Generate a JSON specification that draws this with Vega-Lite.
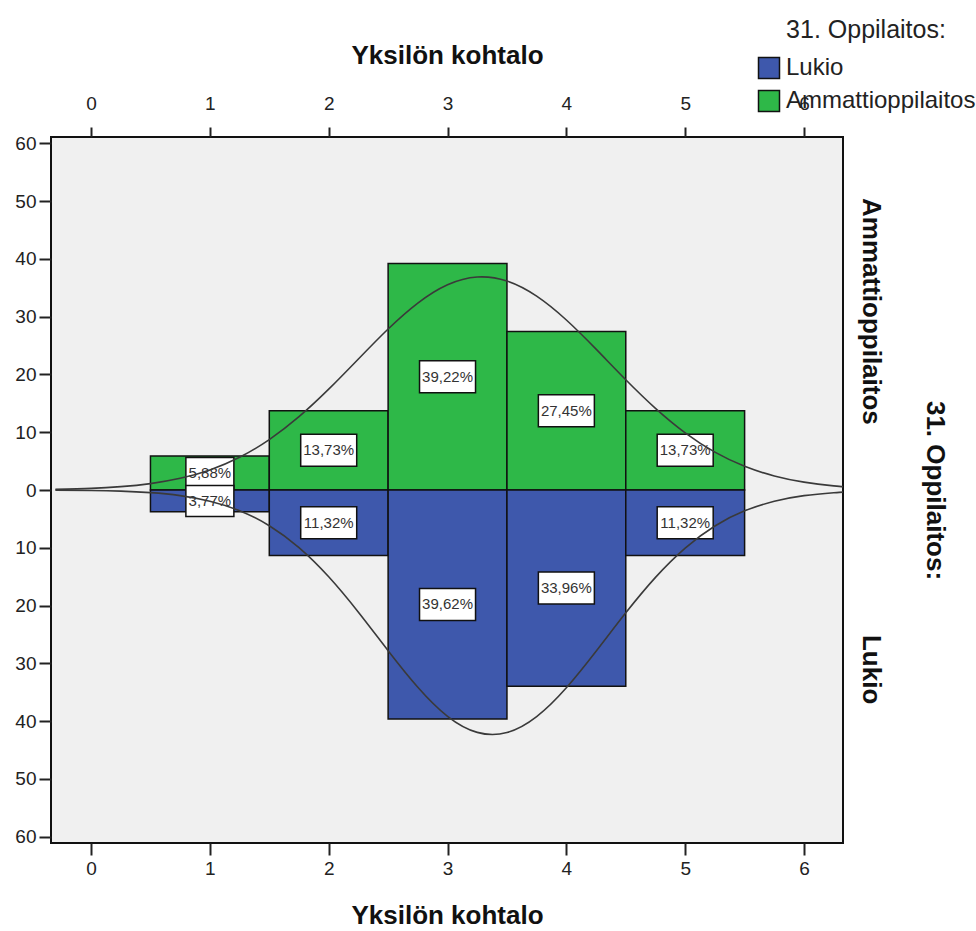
{
  "$schema": "https://vega.github.io/schema/vega-lite/v6.json",
  "width": 792,
  "height": 706,
  "autosize": {"type": "none"},
  "padding": {"left": 51, "top": 137, "right": 133, "bottom": 88},
  "background": "white",
  "config": {
    "font": "Liberation Sans",
    "view": {"stroke": "#111", "strokeWidth": 2, "fill": "#f0f0f0"},
    "axis": {"labelFont": "Liberation Sans", "titleFont": "Liberation Sans", "labelColor": "#222", "titleColor": "#111", "tickColor": "#222", "grid": false, "domain": false}
  },
  "datasets": {
    "bars": [
      {"group": "Ammattioppilaitos", "k": 1, "pct": 5.88, "label": "5,88%"},
      {"group": "Ammattioppilaitos", "k": 2, "pct": 13.73, "label": "13,73%"},
      {"group": "Ammattioppilaitos", "k": 3, "pct": 39.22, "label": "39,22%"},
      {"group": "Ammattioppilaitos", "k": 4, "pct": 27.45, "label": "27,45%"},
      {"group": "Ammattioppilaitos", "k": 5, "pct": 13.73, "label": "13,73%"},
      {"group": "Lukio", "k": 1, "pct": 3.77, "label": "3,77%"},
      {"group": "Lukio", "k": 2, "pct": 11.32, "label": "11,32%"},
      {"group": "Lukio", "k": 3, "pct": 39.62, "label": "39,62%"},
      {"group": "Lukio", "k": 4, "pct": 33.96, "label": "33,96%"},
      {"group": "Lukio", "k": 5, "pct": 11.32, "label": "11,32%"}
    ],
    "curves": [
      {"group": "Ammattioppilaitos", "x": -0.3, "d": 0.11},
      {"group": "Ammattioppilaitos", "x": 0, "d": 0.28},
      {"group": "Ammattioppilaitos", "x": 0.25, "d": 0.58},
      {"group": "Ammattioppilaitos", "x": 0.5, "d": 1.11},
      {"group": "Ammattioppilaitos", "x": 0.75, "d": 2.02},
      {"group": "Ammattioppilaitos", "x": 1, "d": 3.48},
      {"group": "Ammattioppilaitos", "x": 1.25, "d": 5.67},
      {"group": "Ammattioppilaitos", "x": 1.5, "d": 8.73},
      {"group": "Ammattioppilaitos", "x": 1.75, "d": 12.69},
      {"group": "Ammattioppilaitos", "x": 2, "d": 17.45},
      {"group": "Ammattioppilaitos", "x": 2.25, "d": 22.68},
      {"group": "Ammattioppilaitos", "x": 2.5, "d": 27.87},
      {"group": "Ammattioppilaitos", "x": 2.75, "d": 32.36},
      {"group": "Ammattioppilaitos", "x": 3, "d": 35.53},
      {"group": "Ammattioppilaitos", "x": 3.25, "d": 36.87},
      {"group": "Ammattioppilaitos", "x": 3.5, "d": 36.17},
      {"group": "Ammattioppilaitos", "x": 3.75, "d": 33.55},
      {"group": "Ammattioppilaitos", "x": 4, "d": 29.42},
      {"group": "Ammattioppilaitos", "x": 4.25, "d": 24.38},
      {"group": "Ammattioppilaitos", "x": 4.5, "d": 19.09},
      {"group": "Ammattioppilaitos", "x": 4.75, "d": 14.14},
      {"group": "Ammattioppilaitos", "x": 5, "d": 9.9},
      {"group": "Ammattioppilaitos", "x": 5.25, "d": 6.55},
      {"group": "Ammattioppilaitos", "x": 5.5, "d": 4.1},
      {"group": "Ammattioppilaitos", "x": 5.75, "d": 2.42},
      {"group": "Ammattioppilaitos", "x": 6, "d": 1.36},
      {"group": "Ammattioppilaitos", "x": 6.25, "d": 0.71},
      {"group": "Ammattioppilaitos", "x": 6.33, "d": 0.58},
      {"group": "Lukio", "x": -0.3, "d": 0.02},
      {"group": "Lukio", "x": 0, "d": 0.08},
      {"group": "Lukio", "x": 0.25, "d": 0.2},
      {"group": "Lukio", "x": 0.5, "d": 0.46},
      {"group": "Lukio", "x": 0.75, "d": 0.97},
      {"group": "Lukio", "x": 1, "d": 1.94},
      {"group": "Lukio", "x": 1.25, "d": 3.58},
      {"group": "Lukio", "x": 1.5, "d": 6.18},
      {"group": "Lukio", "x": 1.75, "d": 9.98},
      {"group": "Lukio", "x": 2, "d": 15.03},
      {"group": "Lukio", "x": 2.25, "d": 21.16},
      {"group": "Lukio", "x": 2.5, "d": 27.81},
      {"group": "Lukio", "x": 2.75, "d": 34.14},
      {"group": "Lukio", "x": 3, "d": 39.17},
      {"group": "Lukio", "x": 3.25, "d": 41.95},
      {"group": "Lukio", "x": 3.5, "d": 41.98},
      {"group": "Lukio", "x": 3.75, "d": 39.23},
      {"group": "Lukio", "x": 4, "d": 34.24},
      {"group": "Lukio", "x": 4.25, "d": 27.92},
      {"group": "Lukio", "x": 4.5, "d": 21.26},
      {"group": "Lukio", "x": 4.75, "d": 15.12},
      {"group": "Lukio", "x": 5, "d": 10.05},
      {"group": "Lukio", "x": 5.25, "d": 6.23},
      {"group": "Lukio", "x": 5.5, "d": 3.61},
      {"group": "Lukio", "x": 5.75, "d": 1.96},
      {"group": "Lukio", "x": 6, "d": 0.98},
      {"group": "Lukio", "x": 6.25, "d": 0.47},
      {"group": "Lukio", "x": 6.33, "d": 0.36}
    ]
  },
  "layer": [
    {
      "data": {"name": "bars"},
      "transform": [
        {"calculate": "datum.group == 'Lukio' ? -datum.pct : datum.pct", "as": "v"},
        {"calculate": "datum.k - 0.5", "as": "lo"},
        {"calculate": "datum.k + 0.5", "as": "hi"}
      ],
      "mark": {"type": "rect", "stroke": "#111", "strokeWidth": 1.5},
      "encoding": {
        "x": {"field": "lo", "type": "quantitative", "scale": {"domain": [-0.337, 6.328], "nice": false, "zero": false},
          "axis": {"orient": "bottom", "values": [0, 1, 2, 3, 4, 5, 6], "format": "d", "title": "Yksilön kohtalo", "tickSize": 12, "tickWidth": 2, "labelPadding": 4, "labelFontSize": 19, "titleFontSize": 26, "titleFontWeight": "bold", "titlePadding": 24}},
        "x2": {"field": "hi"},
        "y": {"field": "v", "type": "quantitative", "scale": {"domain": [-61.1, 61.1], "nice": false, "zero": false},
          "axis": {"orient": "left", "values": [-60, -50, -40, -30, -20, -10, 0, 10, 20, 30, 40, 50, 60], "labelExpr": "'' + abs(datum.value)", "title": null, "tickSize": 12, "tickWidth": 2, "labelPadding": 3, "labelFontSize": 19}},
        "y2": {"datum": 0},
        "color": {"field": "group", "type": "nominal",
          "scale": {"domain": ["Lukio", "Ammattioppilaitos"], "range": ["#3E58AC", "#2EB848"]},
          "legend": {"title": "31. Oppilaitos:", "orient": "none", "legendX": 706, "legendY": -119, "padding": 0,
            "titleFontSize": 25, "titleFontWeight": "normal", "titleColor": "#222", "titleAnchor": "middle", "titlePadding": 13, "titleFont": "Liberation Sans", "titleLimit": 0,
            "labelFontSize": 24, "labelColor": "#222", "labelFont": "Liberation Sans", "labelOffset": 5, "labelLimit": 0,
            "symbolType": "square", "symbolSize": 441, "symbolStrokeColor": "#111", "symbolStrokeWidth": 1.5, "symbolOpacity": 1, "rowPadding": 5}}
      }
    },
    {
      "data": {"name": "bars"},
      "transform": [
        {"calculate": "(datum.group == 'Lukio' ? -datum.pct : datum.pct) / 2", "as": "mid"},
        {"calculate": "length(datum.label)", "as": "len"}
      ],
      "mark": {"type": "point", "filled": true, "fill": "white", "stroke": "#111", "strokeWidth": 1.5, "opacity": 1, "size": 3136},
      "encoding": {
        "x": {"field": "k", "type": "quantitative", "scale": {"domain": [-0.337, 6.328], "nice": false, "zero": false}, "axis": null},
        "y": {"field": "mid", "type": "quantitative", "scale": {"domain": [-61.1, 61.1], "nice": false, "zero": false}, "axis": null},
        "shape": {"field": "len", "type": "nominal", "scale": {"domain": [5, 6], "range": ["M-0.857,-0.554H0.857V0.554H-0.857Z", "M-1,-0.571H1V0.571H-1Z"]}, "legend": null}
      }
    },
    {
      "data": {"name": "bars"},
      "transform": [
        {"calculate": "(datum.group == 'Lukio' ? -datum.pct : datum.pct) / 2", "as": "mid"}
      ],
      "mark": {"type": "text", "fontSize": 15, "color": "#333", "font": "Liberation Sans", "align": "center", "baseline": "middle"},
      "encoding": {
        "x": {"field": "k", "type": "quantitative", "scale": {"domain": [-0.337, 6.328], "nice": false, "zero": false}, "axis": null},
        "y": {"field": "mid", "type": "quantitative", "scale": {"domain": [-61.1, 61.1], "nice": false, "zero": false}, "axis": null},
        "text": {"field": "label"}
      }
    },
    {
      "data": {"name": "curves"},
      "transform": [
        {"calculate": "datum.group == 'Lukio' ? -datum.d : datum.d", "as": "v"}
      ],
      "mark": {"type": "line", "color": "#3a3a3a", "strokeWidth": 1.6, "interpolate": "natural", "clip": true},
      "encoding": {
        "x": {"field": "x", "type": "quantitative", "scale": {"domain": [-0.337, 6.328], "nice": false, "zero": false},
          "axis": {"orient": "top", "values": [0, 1, 2, 3, 4, 5, 6], "format": "d", "title": "Yksilön kohtalo", "tickSize": 10, "tickWidth": 2, "labelPadding": 14, "labelFontSize": 19, "titleFontSize": 26, "titleFontWeight": "bold", "titlePadding": 26}},
        "y": {"field": "v", "type": "quantitative", "scale": {"domain": [-61.1, 61.1], "nice": false, "zero": false},
          "axis": {"orient": "right", "values": [31, -31], "labelExpr": "datum.value > 0 ? 'Ammattioppilaitos' : 'Lukio'", "ticks": false, "tickSize": 0, "labelPadding": 14, "labelAngle": 90, "labelAlign": "center", "labelBaseline": "bottom", "labelFontSize": 26, "labelFontWeight": "bold", "labelColor": "#111", "labelLimit": 0, "title": "31. Oppilaitos:", "titleFontSize": 26, "titleFontWeight": "bold", "titlePadding": 38}},
        "detail": {"field": "group"}
      }
    },
    {
      "mark": {"type": "rule", "color": "#111", "strokeWidth": 3},
      "encoding": {
        "y": {"datum": 0, "type": "quantitative", "scale": {"domain": [-61.1, 61.1], "nice": false, "zero": false}, "axis": null}
      }
    }
  ],
  "resolve": {"axis": {"x": "independent", "y": "independent"}}
}
